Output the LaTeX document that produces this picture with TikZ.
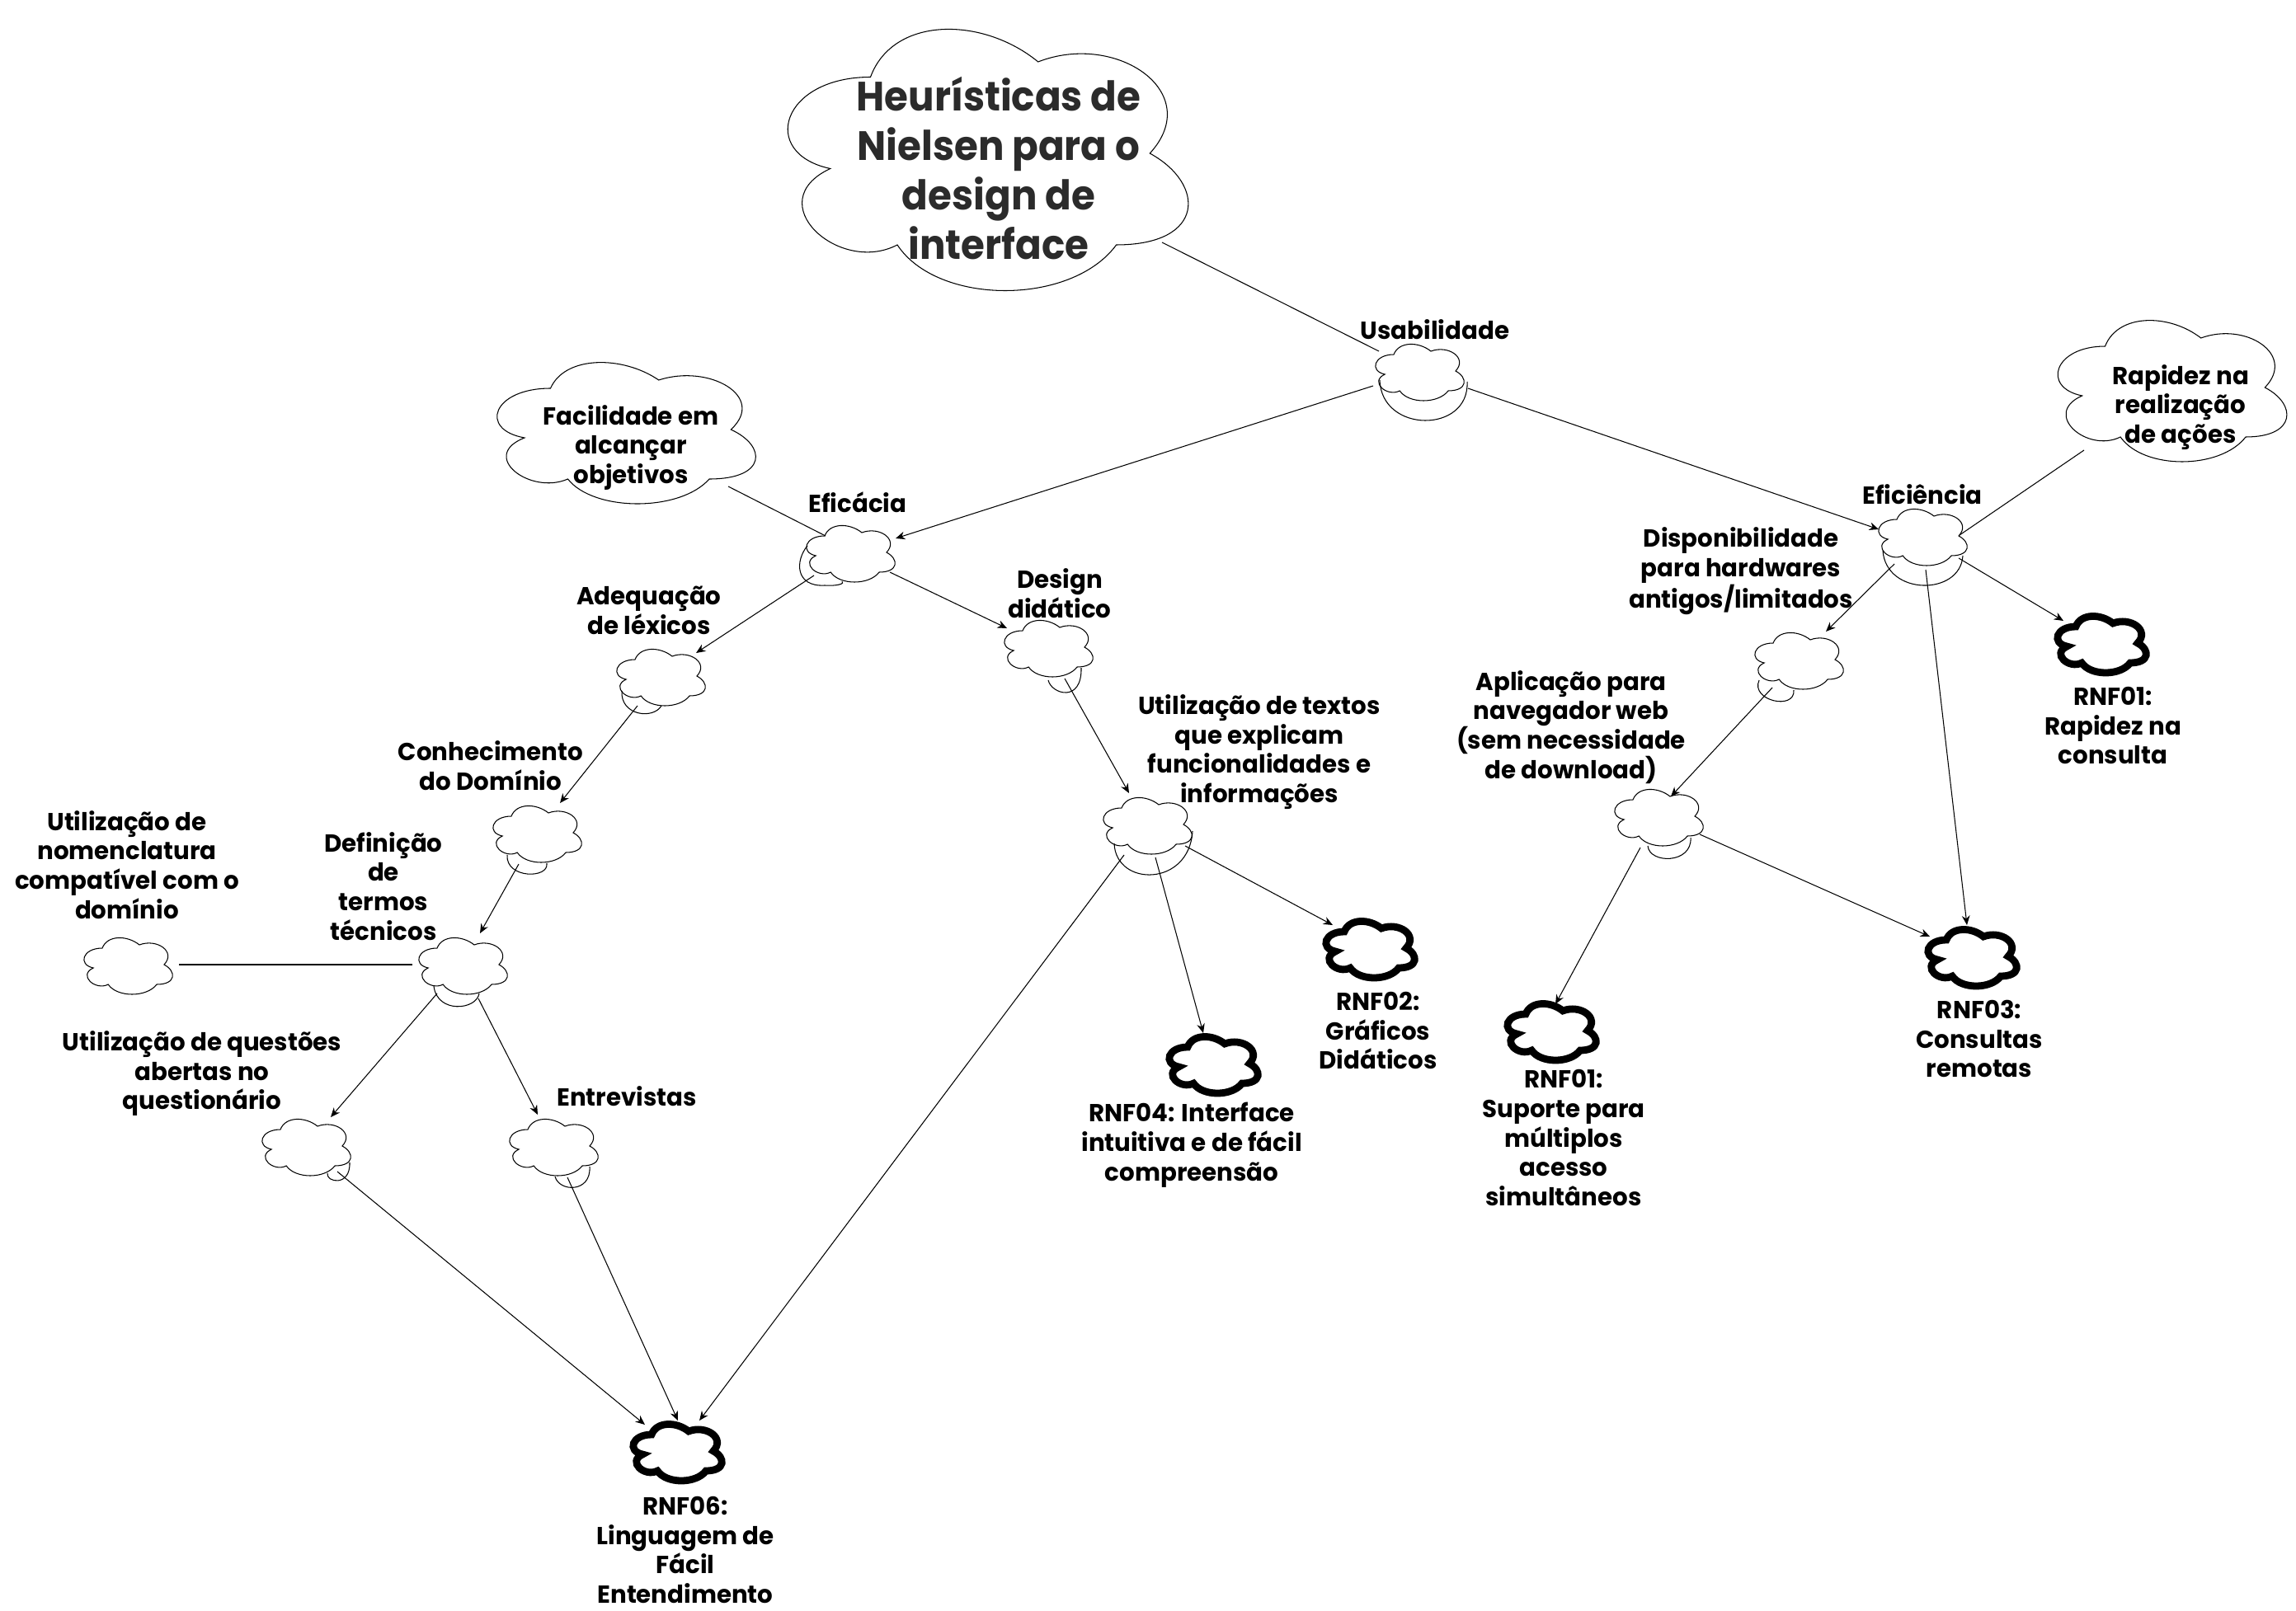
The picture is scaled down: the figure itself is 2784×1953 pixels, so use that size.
\documentclass[tikz,border=0pt]{standalone}
\usepackage{fontspec}
\setmainfont{Poppins}[FakeStretch=0.98]
\newfontfamily\titlefam{Poppins}[FakeStretch=0.94]
\usetikzlibrary{arrows.meta}
\tikzset{
  cloudbox/.style={inner sep=0pt,outer sep=0pt},
  thinstroke/.style={draw=black,line width=0.6pt},
  thickstroke/.style={draw=black,line width=5pt,line join=miter},
  edge/.style={draw=black,line width=0.6pt},
  arrowed/.style={-{Stealth[length=6.5pt,width=5.5pt]}},
  lbl/.style={align=center,inner sep=0pt,font=\fontsize{17}{20.4}\selectfont\bfseries,text=black},
  titlelbl/.style={align=center,inner sep=0pt,font=\titlefam\fontsize{28.3}{34}\selectfont\bfseries,text=black!83}
}
\newcommand{\cld}[6]{%
  \node[cloudbox,minimum width=#4*0.02cm,minimum height=#5*0.02cm] (#1) at (#2,#3) {};
  \draw[#6,shift={(#1.north west)},xscale=#4,yscale=#5]
    (.25,.25) .. controls (.05,.25) and (0,.5) .. (.16,.55)
    .. controls (0,.66) and (.18,.9) .. (.31,.8)
    .. controls (.4,1) and (.7,1) .. (.8,.8)
    .. controls (1,.8) and (1,.6) .. (.875,.5)
    .. controls (1,.3) and (.8,.1) .. (.625,.2)
    .. controls (.5,.05) and (.3,.05) .. (.25,.25) -- cycle;
}
\newcommand{\lnk}[5][]{\draw[edge,#1] ([shift={(#3)}]#2.center) -- ([shift={(#5)}]#4.center);}
\newcommand{\selfloop}[5]{\draw[edge] ([shift={(#2)}]#1.center) .. controls ([shift={(#3)}]#1.center) and ([shift={(#4)}]#1.center) .. ([shift={(#5)}]#1.center);}
\begin{document}
\begin{tikzpicture}[x=0.02cm,y=-0.02cm]
\useasboundingbox (0,0) rectangle (2784,1953);
% clouds
\cld{T}{1191}{186}{542}{370}{thinstroke}
\cld{Fa}{755}{521}{350}{200}{thinstroke}
\cld{Ra}{2630}{470}{310}{200}{thinstroke}
\cld{U}{1720}{450}{120}{80}{thinstroke}
\cld{Ef}{1030}{670}{120}{80}{thinstroke}
\cld{Efi}{2330}{650}{120}{80}{thinstroke}
\cld{D}{1270}{785}{120}{80}{thinstroke}
\cld{Aq}{800}{820}{120}{80}{thinstroke}
\cld{C}{650}{1010}{120}{80}{thinstroke}
\cld{Df}{560}{1170}{120}{80}{thinstroke}
\cld{N}{154}{1170}{120}{80}{thinstroke}
\cld{Q}{370}{1390}{120}{80}{thinstroke}
\cld{E}{670}{1390}{120}{80}{thinstroke}
\cld{Tx}{1390}{1000}{120}{80}{thinstroke}
\cld{Ap}{2010}{990}{120}{80}{thinstroke}
\cld{Di}{2180}{800}{120}{80}{thinstroke}
\cld{RB}{1660}{1150}{120}{80}{thickstroke}
\cld{RD}{1470}{1290}{120}{80}{thickstroke}
\cld{RA}{1880}{1250}{120}{80}{thickstroke}
\cld{RE}{2547}{780}{120}{80}{thickstroke}
\cld{RC}{2390}{1160}{120}{80}{thickstroke}
\cld{RF}{820}{1760}{120}{80}{thickstroke}
% connectors
\lnk{T}{218,108}{U}{-48,-24}
\lnk[arrowed]{U}{-55,18}{Ef}{56,-17}
\lnk[arrowed]{U}{60,21}{Efi}{-52,-8}
\lnk{Fa}{128,69}{Ef}{-29,-20}
\lnk{Ra}{-103,76}{Efi}{46,-1}
\lnk[arrowed]{Ef}{-43,28}{Aq}{44,-28}
\lnk[arrowed]{Ef}{49,24}{D}{-49,-23}
\lnk[arrowed]{Aq}{-27,36}{C}{29,-36}
\lnk[arrowed]{C}{-21,38}{Df}{22,-38}
\lnk{Df}{-60,0}{N}{63,0}
\lnk[arrowed]{Df}{-30,35}{Q}{31,-35}
\lnk[arrowed]{Df}{20,41}{E}{-18,-38}
\lnk[arrowed]{Q}{39,31}{RF}{-38,-32}
\lnk[arrowed]{E}{18,38}{RF}{2,-37}
\lnk[arrowed]{D}{21,38}{Tx}{-21,-38}
\lnk[arrowed]{Tx}{-27,37}{RF}{28,-37}
\lnk[arrowed]{Tx}{11,40}{RD}{-11,-37}
\lnk[arrowed]{Tx}{47,26}{RB}{-44,-28}
\lnk[arrowed]{Efi}{-33,34}{Di}{34,-34}
\lnk[arrowed]{Efi}{45,27}{RE}{-45,-27}
\lnk[arrowed]{Efi}{5,41}{RC}{-5,-38}
\lnk[arrowed]{Di}{-31,34}{Ap}{16,-24}
\lnk[arrowed]{Ap}{-21,38}{RA}{6,-32}
\lnk[arrowed]{Ap}{51,22}{RC}{-50,-24}
% self loops
\selfloop{U}{-47,11}{-45,76}{62,76}{59,13}
\draw[edge] ([shift={(-51,-8)}]Ef.center) .. controls ([shift={(-66,10)}]Ef.center) and ([shift={(-66,42)}]Ef.center) .. ([shift={(-30,40)}]Ef.center) .. controls ([shift={(-15,41)}]Ef.center) and ([shift={(-5,38)}]Ef.center) .. ([shift={(-9,35)}]Ef.center);
\selfloop{D}{1,40}{5,57}{42,68}{41,25}
\selfloop{Efi}{-47,18}{-43,73}{47,73}{50,24}
\selfloop{Aq}{-46,18}{-48,48}{-8,53}{2,36}
\selfloop{C}{-35,27}{-37,56}{16,56}{13,37}
\selfloop{Df}{-34,26}{-30,60}{18,55}{21,35}
\selfloop{Q}{54,20}{55,50}{25,44}{27,33}
\selfloop{E}{3,37}{8,56}{47,57}{45,25}
\selfloop{Tx}{-39,23}{-37,76}{52,76}{56,8}
\selfloop{Di}{-47,25}{-58,50}{-3,62}{-5,37}
\selfloop{Ap}{-12,36}{-10,58}{42,58}{40,26}
% labels
\node[titlelbl] (tT) at (1211,204) {Heurísticas de\\Nielsen para o\\design de\\interface};
\node[lbl] (tU) at (1740,400) {Usabilidade};
\node[lbl] (tFa) at (765,543) {Facilidade em\\alcançar\\objetivos};
\node[lbl] (tEf) at (1040,609) {Eficácia};
\node[lbl] (tEfi) at (2331,600) {Eficiência};
\node[lbl] (tRa) at (2644,494) {Rapidez na\\realização\\de ações};
\node[lbl] (tAq) at (787,740) {Adequação\\de léxicos};
\node[lbl] (tD) at (1285,720) {Design\\didático};
\node[lbl] (tDi) at (2111,693) {Disponibilidade\\para hardwares\\antigos/limitados};
\node[lbl] (tAp) at (1905,882) {Aplicação para\\navegador web\\(sem necessidade\\de download)};
\node[lbl] (tTx) at (1527,912) {Utilização de textos\\que explicam\\funcionalidades e\\informações};
\node[lbl] (tC) at (595,929) {Conhecimento\\do Domínio};
\node[lbl] (tN) at (154,1049) {Utilização de\\nomenclatura\\compatível com o\\domínio};
\node[lbl] (tDf) at (465,1075) {Definição\\de\\termos\\técnicos};
\node[lbl] (tQ) at (245,1302) {Utilização de questões\\abertas no\\questionário};
\node[lbl] (tE) at (760,1330) {Entrevistas};
\node[lbl] (tRB) at (1671,1250) {RNF02:\\Gráficos\\Didáticos};
\node[lbl] (tRD) at (1445,1389) {RNF04: Interface\\intuitiva e de fácil\\compreensão};
\node[lbl] (tRA) at (1896,1380) {RNF01:\\Suporte para\\múltiplos\\acesso\\simultâneos};
\node[lbl] (tRC) at (2400,1260) {RNF03:\\Consultas\\remotas};
\node[lbl] (tRE) at (2562,880) {RNF01:\\Rapidez na\\consulta};
\node[lbl] (tRF) at (831,1880) {RNF06:\\Linguagem de\\Fácil\\Entendimento};
\end{tikzpicture}
\end{document}
